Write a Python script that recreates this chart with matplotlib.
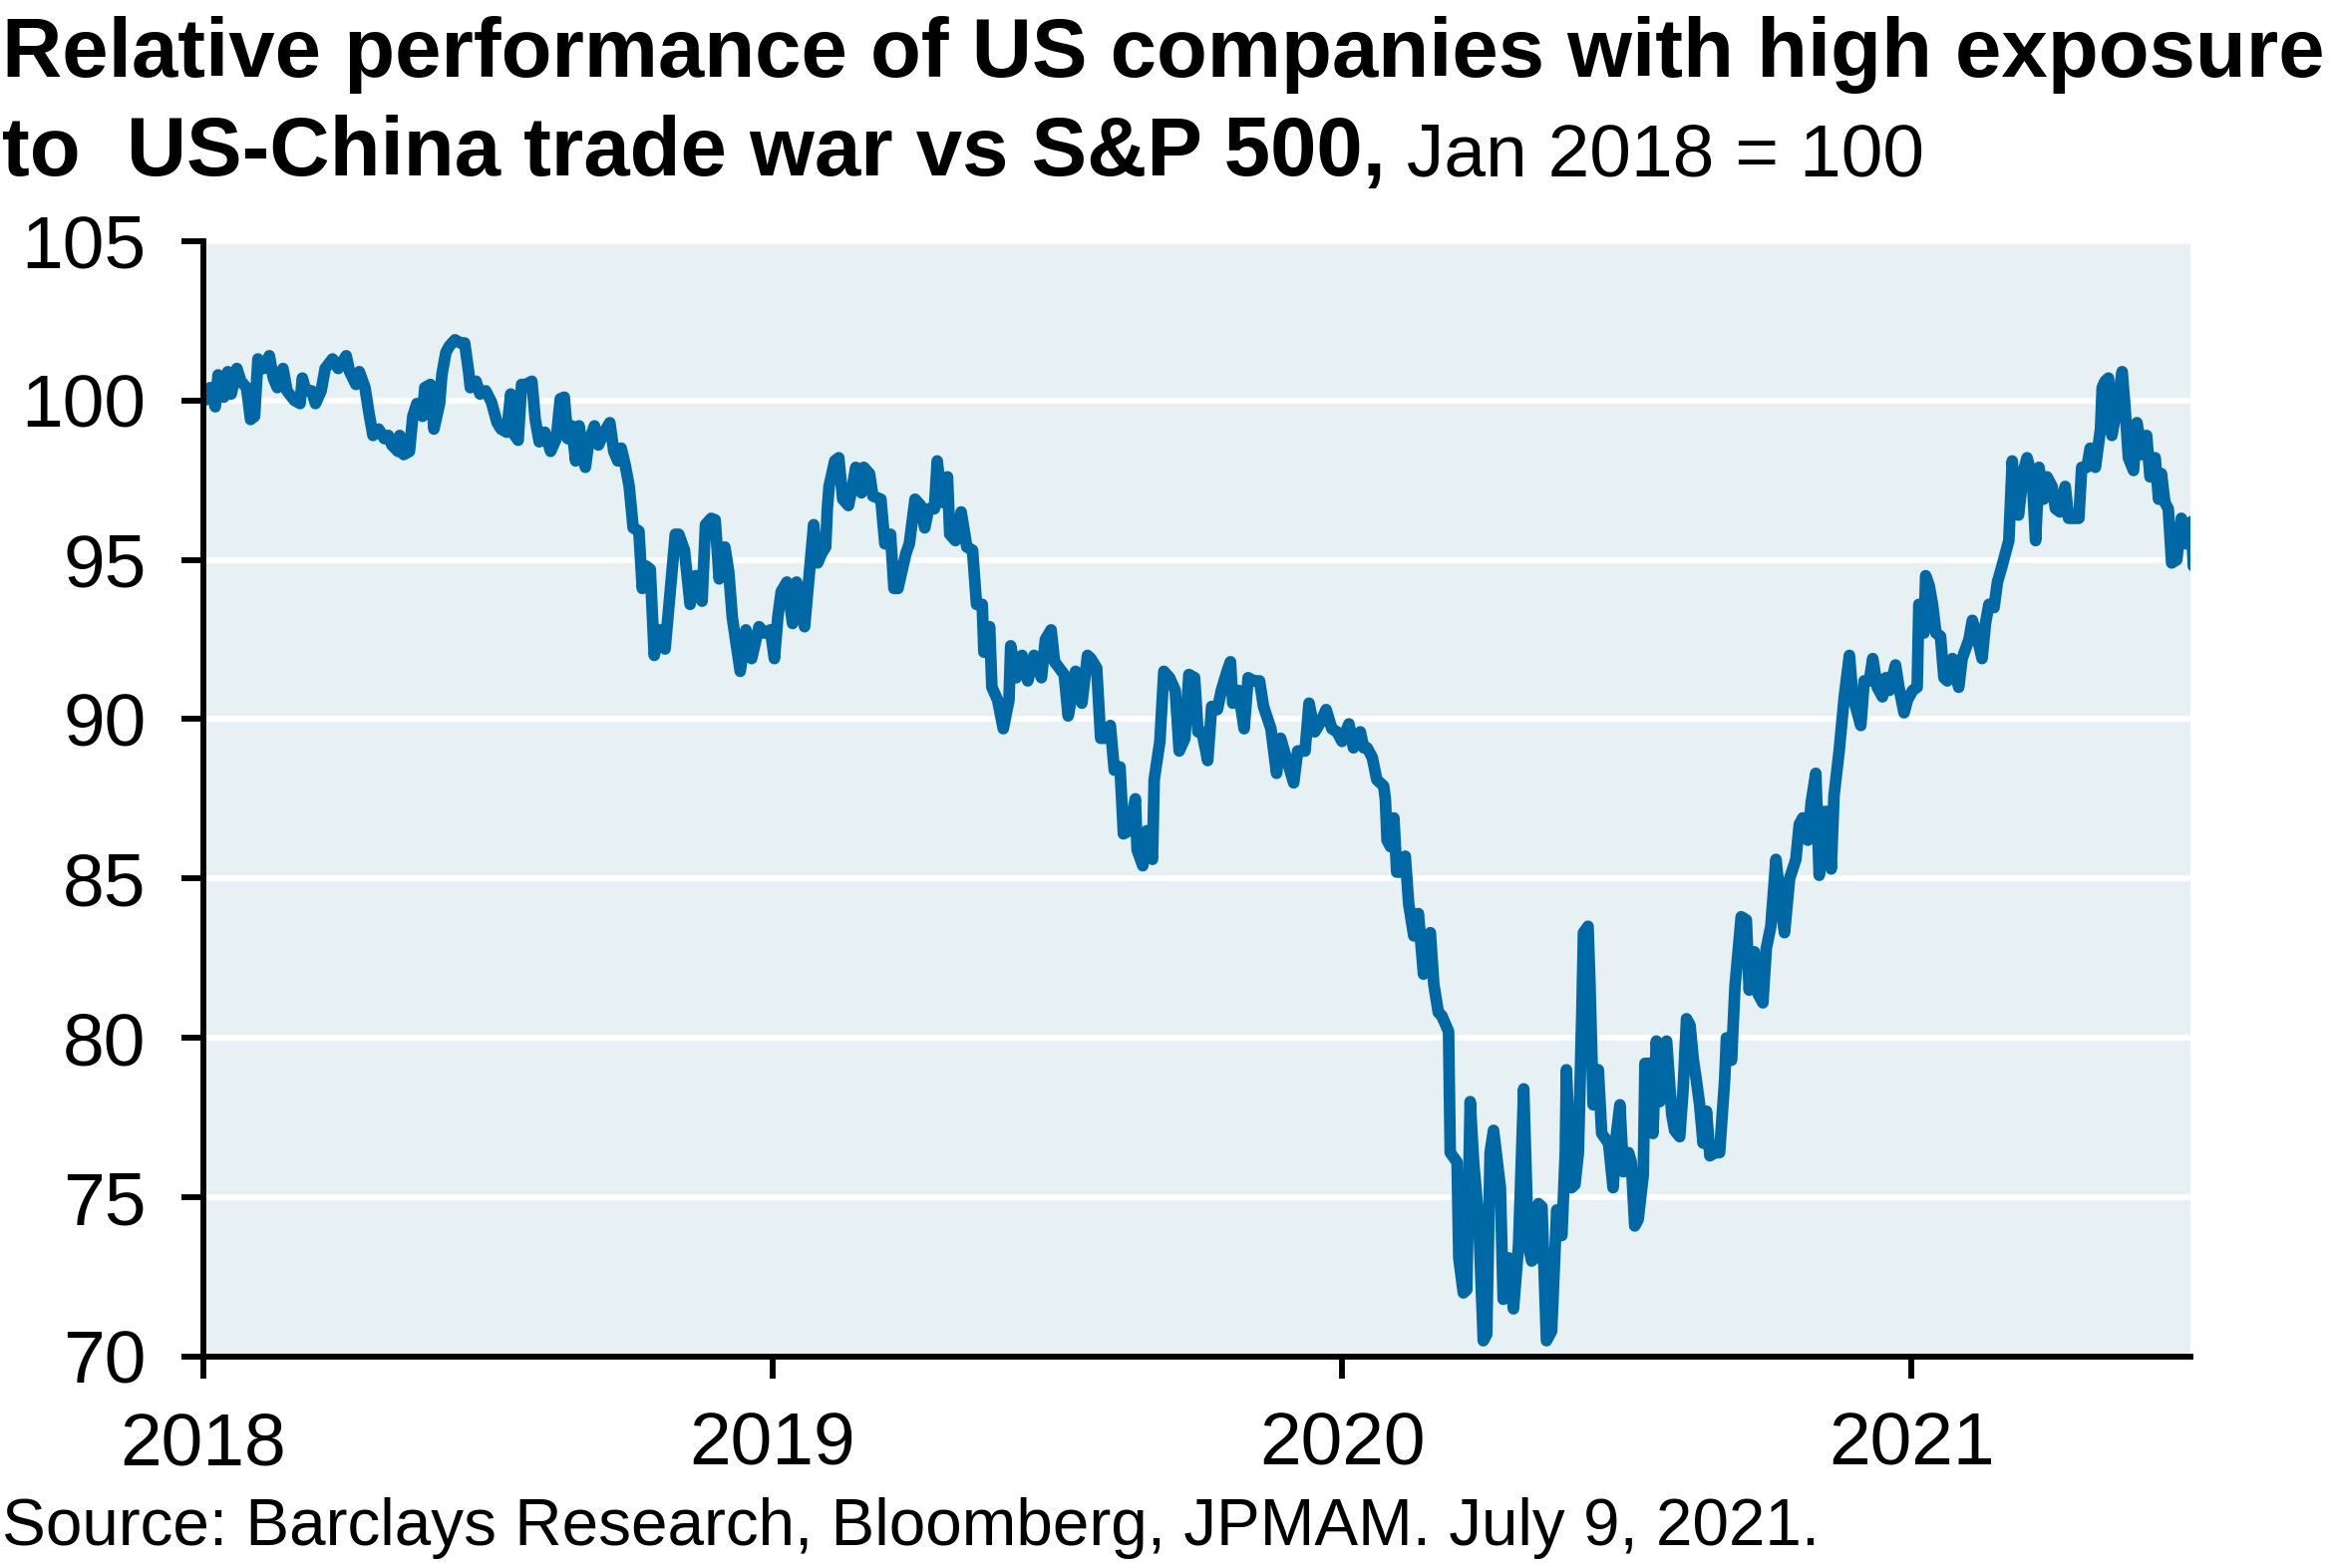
import matplotlib
matplotlib.use("Agg")
import matplotlib.pyplot as plt

# decimal years, with the relative index (Jan 2018 = 100)
dates = [
    2018.002, 2018.012, 2018.021, 2018.026, 2018.036, 2018.043, 2018.049, 2018.059, 2018.066, 2018.076,
    2018.083, 2018.090, 2018.096, 2018.106, 2018.116, 2018.123, 2018.130, 2018.140, 2018.147, 2018.160,
    2018.170, 2018.174, 2018.180, 2018.190, 2018.197, 2018.207, 2018.214, 2018.227, 2018.237, 2018.251,
    2018.257, 2018.268, 2018.274, 2018.284, 2018.291, 2018.298, 2018.308, 2018.318, 2018.325, 2018.331,
    2018.342, 2018.345, 2018.352, 2018.362, 2018.368, 2018.375, 2018.385, 2018.389, 2018.399, 2018.405,
    2018.415, 2018.419, 2018.426, 2018.432, 2018.442, 2018.452, 2018.459, 2018.466, 2018.469, 2018.479,
    2018.486, 2018.496, 2018.506, 2018.516, 2018.523, 2018.533, 2018.540, 2018.547, 2018.553, 2018.559,
    2018.567, 2018.577, 2018.583, 2018.590, 2018.600, 2018.610, 2018.620, 2018.627, 2018.634, 2018.640,
    2018.647, 2018.654, 2018.660, 2018.671, 2018.677, 2018.687, 2018.694, 2018.704, 2018.714, 2018.721,
    2018.728, 2018.734, 2018.741, 2018.748, 2018.755, 2018.765, 2018.771, 2018.778, 2018.785, 2018.792,
    2018.801, 2018.811, 2018.818, 2018.829, 2018.835, 2018.845, 2018.855, 2018.865, 2018.876, 2018.882,
    2018.892, 2018.899, 2018.906, 2018.916, 2018.923, 2018.929, 2018.943, 2018.953, 2018.963, 2018.976,
    2018.986, 2018.996, 2019.003,
    2019.009, 2019.015, 2019.025, 2019.035, 2019.042, 2019.056, 2019.066, 2019.072, 2019.079, 2019.086,
    2019.093, 2019.096, 2019.099, 2019.109, 2019.116, 2019.123, 2019.133, 2019.140, 2019.146, 2019.156,
    2019.160, 2019.170, 2019.176, 2019.190, 2019.197, 2019.207, 2019.213, 2019.220, 2019.234, 2019.240,
    2019.250, 2019.260, 2019.267, 2019.274, 2019.284, 2019.289, 2019.297, 2019.307, 2019.311, 2019.321,
    2019.331, 2019.341, 2019.351, 2019.358, 2019.368, 2019.371, 2019.381, 2019.385, 2019.395, 2019.405,
    2019.415, 2019.418, 2019.428, 2019.438, 2019.448, 2019.459, 2019.472, 2019.479, 2019.489, 2019.495,
    2019.512, 2019.519, 2019.526, 2019.532, 2019.543, 2019.553, 2019.559, 2019.569, 2019.576, 2019.583,
    2019.593, 2019.600, 2019.610, 2019.616, 2019.626, 2019.637, 2019.640, 2019.650, 2019.657, 2019.667,
    2019.670, 2019.680, 2019.687, 2019.697, 2019.707, 2019.714, 2019.724, 2019.731, 2019.741, 2019.747,
    2019.754, 2019.764, 2019.771, 2019.781, 2019.788, 2019.798, 2019.804, 2019.808, 2019.818, 2019.828,
    2019.835, 2019.845, 2019.855, 2019.862, 2019.875, 2019.885, 2019.892, 2019.905, 2019.915, 2019.922,
    2019.935, 2019.942, 2019.952, 2019.962, 2019.972, 2019.982,
    2019.991, 2020.000, 2020.012, 2020.020, 2020.032, 2020.038, 2020.044, 2020.053, 2020.061, 2020.073,
    2020.076, 2020.079, 2020.085, 2020.091, 2020.096, 2020.105, 2020.111, 2020.117, 2020.126, 2020.134,
    2020.143, 2020.149, 2020.155, 2020.161, 2020.169, 2020.175, 2020.187, 2020.190, 2020.202, 2020.205,
    2020.213, 2020.219, 2020.225, 2020.231, 2020.240, 2020.248, 2020.254, 2020.260, 2020.266, 2020.278,
    2020.283, 2020.292, 2020.301, 2020.310, 2020.319, 2020.327, 2020.333, 2020.339, 2020.345, 2020.351,
    2020.359, 2020.368, 2020.377, 2020.386, 2020.392, 2020.394, 2020.403, 2020.409, 2020.415, 2020.421,
    2020.424, 2020.432, 2020.435, 2020.441, 2020.450, 2020.456, 2020.468, 2020.476, 2020.482, 2020.488,
    2020.494, 2020.503, 2020.508, 2020.514, 2020.520, 2020.529, 2020.532, 2020.541, 2020.546, 2020.552,
    2020.558, 2020.564, 2020.570, 2020.579, 2020.584, 2020.593, 2020.599, 2020.605, 2020.611, 2020.617,
    2020.622, 2020.628, 2020.634, 2020.640, 2020.646, 2020.655, 2020.663, 2020.672, 2020.675, 2020.684,
    2020.690,
    2020.701, 2020.710, 2020.715, 2020.724, 2020.730, 2020.739, 2020.745, 2020.753, 2020.762, 2020.771,
    2020.777, 2020.786, 2020.797, 2020.803, 2020.809, 2020.818, 2020.824, 2020.832, 2020.838, 2020.847,
    2020.853, 2020.859, 2020.864, 2020.873, 2020.882, 2020.891, 2020.897, 2020.902, 2020.911, 2020.917,
    2020.926, 2020.932, 2020.940, 2020.949, 2020.955, 2020.961, 2020.972, 2020.978, 2020.987, 2020.993,
    2021.002, 2021.010, 2021.013, 2021.022, 2021.025, 2021.031, 2021.037, 2021.043, 2021.051, 2021.057,
    2021.063, 2021.072, 2021.083, 2021.089, 2021.101, 2021.107, 2021.115, 2021.124, 2021.130, 2021.136,
    2021.145, 2021.151, 2021.159, 2021.165, 2021.171, 2021.177, 2021.183, 2021.188, 2021.197, 2021.203,
    2021.212, 2021.218, 2021.224, 2021.232, 2021.238, 2021.247, 2021.253, 2021.261, 2021.270, 2021.276,
    2021.285, 2021.294, 2021.299, 2021.308, 2021.314, 2021.323, 2021.332, 2021.335, 2021.340, 2021.346,
    2021.352, 2021.361, 2021.370, 2021.375, 2021.381, 2021.390, 2021.396, 2021.405, 2021.413, 2021.419,
    2021.428, 2021.434, 2021.439, 2021.445, 2021.451, 2021.457, 2021.466, 2021.474, 2021.483, 2021.492,
    2021.495,
]

values = [
    100.0, 100.4, 99.8, 100.8, 100.1, 100.9, 100.2, 101.0, 100.6, 100.4,
    99.4, 99.5, 101.3, 101.0, 101.4, 100.7, 100.4, 101.0, 100.3, 100.0,
    99.9, 100.7, 100.3, 100.3, 99.9, 100.3, 101.0, 101.3, 101.0, 101.4,
    100.9, 100.5, 100.9, 100.4, 99.6, 98.9, 99.1, 98.8, 98.9, 98.6,
    98.4, 98.9, 98.3, 98.4, 99.5, 99.9, 99.5, 100.4, 100.5, 99.1,
    99.9, 100.8, 101.5, 101.7, 101.9, 101.8, 101.8, 100.9, 100.4, 100.6,
    100.2, 100.3, 99.95, 99.3, 99.1, 99.0, 100.2, 98.9, 98.75, 100.5,
    100.5, 100.6, 99.4, 98.7, 99.0, 98.4, 98.8, 100.05, 100.1, 98.8,
    99.2, 98.1, 99.2, 97.9, 98.7, 99.2, 98.6, 99.0, 99.3, 98.4,
    98.1, 98.5, 97.97, 97.3, 96.0, 95.9, 94.1, 94.8, 94.7, 92.0,
    92.8, 92.2, 93.6, 95.8, 95.8, 95.3, 93.6, 94.5, 93.7, 96.1,
    96.3, 96.25, 94.4, 95.4, 94.6, 93.2, 91.5, 92.8, 91.9, 92.9,
    92.7, 92.8, 91.9,
    93.2, 94.0, 94.3, 93.0, 94.3, 92.9, 94.9, 96.1, 94.9, 95.2,
    95.4, 96.6, 97.3, 98.1, 98.2, 96.9, 96.7, 97.3, 97.9, 97.1,
    97.9, 97.7, 97.0, 96.9, 95.5, 95.8, 94.1, 94.1, 95.2, 95.5,
    96.9, 96.7, 96.0, 96.6, 96.6, 98.1, 96.8, 97.6, 95.8, 95.6,
    96.5, 95.4, 95.3, 93.6, 93.6, 92.1, 92.9, 91.0, 90.6, 89.7,
    90.6, 92.3, 91.3, 92.0, 91.2, 92.0, 91.3, 92.5, 92.8, 91.8,
    91.4, 90.1, 90.8, 91.5, 90.5, 92.0, 91.9, 91.6, 89.4, 89.4,
    89.8, 88.4, 88.5, 86.4, 86.5, 87.5, 85.9, 85.4, 86.5, 85.6,
    88.1, 89.3, 91.5, 91.3, 90.9, 89.0, 89.4, 91.4, 91.3, 89.6,
    89.6, 88.7, 90.4, 90.3, 90.9, 91.5, 91.8, 90.5, 90.9, 89.7,
    91.3, 91.2, 91.2, 90.4, 89.7, 88.3, 89.4, 88.6, 88.0, 89.0,
    89.0, 90.5, 89.6, 89.9, 90.3, 89.7,
    89.6, 89.3, 89.85, 89.1, 89.6, 89.1, 89.1, 88.8, 88.1, 87.9,
    87.5, 86.2, 86.0, 86.9, 85.2, 85.2, 85.7, 84.2, 83.2, 83.9,
    82.0, 82.9, 83.3, 81.7, 80.8, 80.7, 80.2, 76.4, 76.1, 73.1,
    72.0, 72.1, 78.0, 76.1, 74.3, 70.5, 70.7, 76.4, 77.1, 75.3,
    71.8, 73.1, 71.5, 73.5, 78.4, 73.5, 73.0, 73.1, 74.8, 74.7,
    70.5, 70.8, 74.6, 73.8, 76.4, 79.0, 75.3, 75.4, 76.4, 80.7,
    83.3, 83.5, 81.9, 77.9, 79.0, 77.0, 76.7, 75.3, 77.0, 77.9,
    75.8, 76.4, 76.1, 74.1, 74.3, 75.7, 79.2, 79.2, 77.0, 79.9,
    78.0, 79.7, 79.9, 77.6, 77.1, 76.9, 78.4, 80.6, 80.4, 79.3,
    78.7, 77.9, 76.7, 77.7, 76.3, 76.4, 76.4, 78.7, 80.0, 79.3,
    81.6,
    83.8, 83.7, 81.5, 82.7, 81.4, 81.1, 82.8, 83.5, 85.6, 84.1,
    83.3, 85.0, 85.6, 86.7, 86.9, 86.2, 87.4, 88.3, 85.1, 87.1,
    87.1, 85.3, 87.6, 89.0, 90.7, 92.0, 90.7, 90.4, 89.8, 91.2,
    91.2, 91.9, 91.0, 90.7, 91.3, 90.9, 91.7, 91.0, 90.2, 90.6,
    90.9, 91.0, 93.6, 92.7, 94.5, 94.2, 93.6, 92.7, 92.6, 91.3,
    91.2, 91.9, 91.0, 91.9, 92.5, 93.1, 92.6, 91.9, 93.0, 93.6,
    93.5, 94.3, 94.8, 95.2, 95.6, 98.1, 96.8, 96.4, 97.8, 98.2,
    97.6, 95.6, 97.9, 96.9, 97.6, 97.3, 96.6, 96.5, 97.3, 96.3,
    96.3, 96.3, 97.9, 97.9, 98.5, 97.9, 99.1, 100.4, 100.6, 100.7,
    98.9, 99.8, 100.9, 99.8, 98.2, 97.8, 99.3, 98.3, 98.9, 97.6,
    98.2, 96.9, 97.7, 96.8, 96.6, 94.9, 95.0, 96.3, 95.5, 96.2,
    94.8,
]

years = [2018, 2019, 2020, 2021]
year_labels = ['2018', '2019', '2020', '2021']
y_ticks = [70, 75, 80, 85, 90, 95, 100, 105]

plt.rcParams['font.family'] = ['Liberation Sans', 'DejaVu Sans']

fig = plt.figure(figsize=(2341 / 150, 1573 / 150), dpi=150)
ax = fig.add_axes([0.0871, 0.1348, 0.8514, 0.7115])
ax.set_facecolor('#E7F0F3')

ax.plot(dates, values, color='#0068A5', lw=5.6, solid_joinstyle='round',
        solid_capstyle='round', zorder=3)

ax.set_xlim(2018, 2021.49)
ax.set_ylim(70, 105)
ax.set_xticks(years)
ax.set_xticklabels(year_labels)
ax.set_yticks(y_ticks)
ax.yaxis.grid(True, color='white', lw=2.7)
ax.set_axisbelow(True)

for side in ['top', 'right']:
    ax.spines[side].set_visible(False)
for side in ['left', 'bottom']:
    ax.spines[side].set_linewidth(2.8)
    ax.spines[side].set_color('black')
    ax.spines[side].set_zorder(4)

ax.tick_params(axis='both', direction='out', length=10.5, width=2.8,
               labelsize=36, colors='black')
ax.tick_params(axis='x', pad=15.5)
ax.tick_params(axis='y', pad=17)

fig.text(0.001, 0.951, 'Relative performance of US companies with high exposure',
         fontsize=40, fontweight='bold', va='baseline', ha='left')
bold2 = fig.text(0.001, 0.888, 'to  US-China trade war vs S&P 500,',
                 fontsize=40, fontweight='bold', va='baseline', ha='left')
fig.canvas.draw()
bb = bold2.get_window_extent()
x_end = fig.transFigure.inverted().transform((bb.x1, bb.y0))[0]
fig.text(x_end, 0.888, ' Jan 2018 = 100', fontsize=36, va='baseline', ha='left')

fig.text(0.001, 0.0146, 'Source: Barclays Research, Bloomberg, JPMAM. July 9, 2021.',
         fontsize=31.5, va='baseline', ha='left')

fig.savefig('out.png', dpi=150)
